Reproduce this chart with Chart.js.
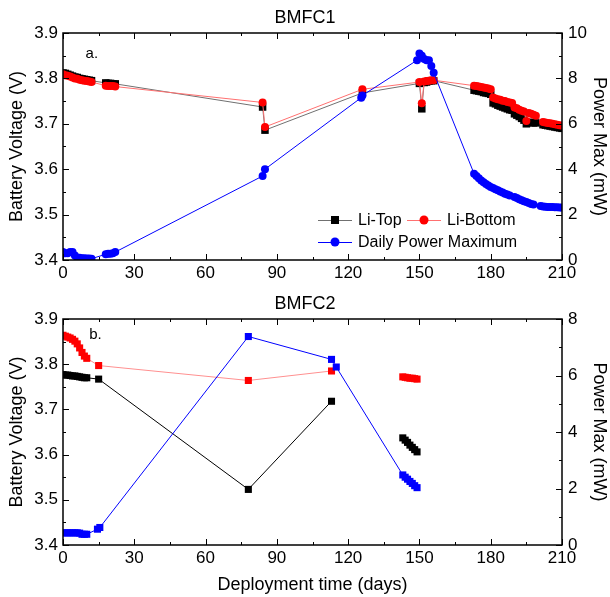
<!DOCTYPE html>
<html><head><meta charset="utf-8">
<script src="https://cdn.jsdelivr.net/npm/chart.js@4/dist/chart.umd.min.js"></script>
<style>
html,body{margin:0;padding:0;background:#fff;}
#p1{position:absolute;left:0;top:0;width:610px;height:290px;}
#p2{position:absolute;left:0;top:290px;width:610px;height:307px;}
</style></head><body>
<div id="p1"><canvas id="c1"></canvas></div>
<div id="p2"><canvas id="c2"></canvas></div>
<script>
// ---------- BMFC1 (panel a) ----------
const title1 = 'BMFC1';
const days1V = [0,1,2,3,4,5,6,7,8,9,10,11,12, 18,19,20,21,22, 84,85, 126, 150,151,152,153,154,155,156,
  173,174,175,176,177,178,179,180, 181,182,183,184,185,186,187,188,189,
  190,191,192,193,194,195,196,197,198,199, 202,203,204,205,206,207,208,209,210];
const liTop1 = [3.812,3.811,3.809,3.807,3.805,3.803,3.802,3.800,3.799,3.798,3.797,3.796,3.795,
  3.790,3.789,3.789,3.788,3.788, 3.737,3.686, 3.768, 3.789,3.733,3.791,3.792,3.794,3.795,3.795,
  3.774,3.773,3.772,3.771,3.769,3.768,3.767,3.765, 3.746,3.744,3.741,3.739,3.737,3.735,3.733,3.731,3.730,
  3.722,3.719,3.716,3.712,3.708,3.700,3.703,3.703,3.702,3.702, 3.698,3.697,3.696,3.695,3.694,3.693,3.692,3.691,3.690];
const liBot1 = [3.809,3.807,3.806,3.804,3.802,3.800,3.799,3.797,3.796,3.795,3.794,3.793,3.792,
  3.784,3.783,3.783,3.783,3.782, 3.747,3.693, 3.776, 3.792,3.745,3.793,3.794,3.795,3.796,3.796,
  3.784,3.783,3.782,3.781,3.780,3.779,3.778,3.776, 3.758,3.756,3.754,3.753,3.751,3.750,3.748,3.747,3.746,
  3.736,3.734,3.731,3.729,3.727,3.706,3.724,3.722,3.720,3.718, 3.704,3.703,3.702,3.701,3.700,3.699,3.698,3.697,3.696];
const days1P = [0,1,2,3,4,5,6,7,8,9,10,11,12, 18,19,20,21,22, 84,85, 125.5,126, 149,150,151,152,153,154,155,156,
  173,174,175,176,177,178,179,180,181,182,183,184,185,186,187,188, 190,191,192,193,194,195,196,197,198,
  201,202,203,204,205,206,207,208,209,210];
const power1 = [0.35,0.3,0.3,0.35,0.35,0.2,0.1,0.1,0.08,0.08,0.07,0.07,0.06,
  0.25,0.27,0.28,0.3,0.35, 3.7,4.0, 7.15,7.25, 8.8,9.1,9.0,8.85,8.8,8.8,8.55,8.25,
  3.8,3.7,3.6,3.5,3.42,3.35,3.28,3.22,3.17,3.12,3.07,3.02,2.97,2.92,2.88,2.84,
  2.78,2.73,2.68,2.63,2.59,2.55,2.51,2.47,2.44,
  2.38,2.36,2.35,2.34,2.33,2.33,2.32,2.32,2.31,2.31];

// ---------- BMFC2 (panel b) ----------
const title2 = 'BMFC2';
const days2V = [0,1,2,3,4,5,6,7,8,9,10,15,78,113,130,143,144,145,146,147,148,149];
const liTop2 = [3.777,3.776,3.776,3.775,3.774,3.774,3.773,3.772,3.771,3.770,3.770,3.767,3.523,3.718,null,
  3.637,3.632,3.627,3.621,3.616,3.611,3.606];
const liBot2 = [3.864,3.862,3.860,3.858,3.855,3.851,3.845,3.836,3.826,3.818,3.813,3.797,3.764,3.785,null,
  3.772,3.771,3.770,3.769,3.769,3.768,3.767];
const days2P = [0,1,2,3,4,5,6,7,8,9,10,14.5,15.5,78,113,115,143,144,145,146,147,148,149];
const power2 = [0.43,0.43,0.43,0.43,0.43,0.43,0.43,0.42,0.38,0.38,0.38,0.56,0.62,7.38,6.57,6.3,
  2.48,2.4,2.33,2.25,2.18,2.1,2.03];

const seriesNames = ['Li-Top','Li-Bottom','Daily Power Maximum'];
const xTitle = 'Deployment time (days)';
const yTitle = 'Battery Voltage (V)';
const y1Title = 'Power Max (mW)';

const FONT = '"Liberation Sans", Arial, Helvetica, sans-serif';
Chart.defaults.font.family = FONT;
Chart.defaults.color = '#000';

const pts = (xs, ys) => xs.map((x, i) => ({x: x, y: ys[i]}));

// inward ticks + frame
const frameTicks = {
  id: 'frameTicks',
  afterDatasetsDraw(chart) {
    const {ctx, chartArea: a} = chart;
    const mk = (sc) => {
      const v = sc.ticks.map(t => t.value), out = [];
      for (let i = 0; i < v.length; i++) {
        out.push([v[i], 6]);
        if (i < v.length - 1) out.push([(v[i] + v[i + 1]) / 2, 3]);
      }
      return out;
    };
    ctx.save();
    ctx.strokeStyle = '#000';
    ctx.lineWidth = 1;
    ctx.beginPath();
    const xs = chart.scales.x;
    for (const [v, len] of mk(xs)) {
      const p = Math.round(xs.getPixelForValue(v)) + 0.5;
      ctx.moveTo(p, a.bottom); ctx.lineTo(p, a.bottom - len);
      ctx.moveTo(p, a.top); ctx.lineTo(p, a.top + len);
    }
    const yl = chart.scales.y;
    for (const [v, len] of mk(yl)) {
      const p = Math.round(yl.getPixelForValue(v)) + 0.5;
      ctx.moveTo(a.left, p); ctx.lineTo(a.left + len, p);
    }
    const yr = chart.scales.y1;
    for (const [v, len] of mk(yr)) {
      const p = Math.round(yr.getPixelForValue(v)) + 0.5;
      ctx.moveTo(a.right, p); ctx.lineTo(a.right - len, p);
    }
    ctx.stroke();
    ctx.lineWidth = 1.5;
    ctx.strokeRect(a.left, a.top, a.right - a.left, a.bottom - a.top);
    // panel letter
    const lab = chart.options.plugins.panelLabel;
    if (lab) {
      ctx.font = '15px ' + FONT;
      ctx.fillStyle = '#000';
      ctx.textBaseline = 'middle';
      ctx.fillText(lab.text, xs.getPixelForValue(lab.x), yl.getPixelForValue(lab.y));
    }
    ctx.restore();
  }
};

// legend inside plot (panel a)
const insideLegend = {
  id: 'insideLegend',
  afterDraw(chart) {
    const opt = chart.options.plugins.insideLegend;
    if (!opt || !opt.show) return;
    const {ctx, chartArea: a} = chart;
    const pos = {};
    pos[seriesNames[0]] = [a.left + 255, a.bottom - 40];
    pos[seriesNames[1]] = [a.left + 344, a.bottom - 40];
    pos[seriesNames[2]] = [a.left + 255, a.bottom - 18];
    ctx.save();
    ctx.font = '16px ' + FONT;
    ctx.textBaseline = 'middle';
    chart.data.datasets.forEach((d) => {
      const [x, y] = pos[d.label];
      ctx.strokeStyle = d.borderColor;
      ctx.lineWidth = 1;
      ctx.beginPath(); ctx.moveTo(x, y + 0.5); ctx.lineTo(x + 34, y + 0.5); ctx.stroke();
      ctx.fillStyle = d.pointBackgroundColor;
      if (d.pointStyle === 'rect') ctx.fillRect(x + 17 - 4, y - 4, 8, 8);
      else { ctx.beginPath(); ctx.arc(x + 17, y, 4.5, 0, Math.PI * 2); ctx.fill(); }
      ctx.fillStyle = '#000';
      ctx.fillText(d.label, x + 40, y + 1);
    });
    ctx.restore();
  }
};

function makeScales(xAxisHeight, showXTitle, pMax) {
  return {
    x: {
      type: 'linear', min: 0, max: 210, position: 'bottom',
      ticks: {stepSize: 30, font: {size: 17}, padding: 3, maxRotation: 0, autoSkip: false, color: '#000'},
      grid: {display: false, drawTicks: false}, border: {display: false},
      title: {display: showXTitle, text: xTitle, font: {size: 18}, color: '#000', padding: {top: 0, bottom: 1}},
      afterFit: s => { s.height = xAxisHeight; }
    },
    y: {
      type: 'linear', min: 3.4, max: 3.9, position: 'left',
      ticks: {stepSize: 0.1, font: {size: 17}, padding: 5, color: '#000', callback: v => Number(v).toFixed(1)},
      grid: {display: false, drawTicks: false}, border: {display: false},
      title: {display: true, text: yTitle, font: {size: 18}, color: '#000', padding: {top: 6, bottom: 0}},
      afterFit: s => { s.width = 63; }
    },
    y1: {
      type: 'linear', min: 0, max: pMax, position: 'right',
      ticks: {stepSize: 2, font: {size: 17}, padding: 6, color: '#000'},
      grid: {display: false, drawTicks: false}, border: {display: false},
      title: {display: true, text: y1Title, font: {size: 18}, color: '#000', padding: {top: 0, bottom: 0}},
      afterFit: s => { s.width = 48; }
    }
  };
}

new Chart(document.getElementById('c1'), {
  type: 'line',
  data: {
    datasets: [
      {label: seriesNames[2], data: pts(days1P, power1), yAxisID: 'y1', order: 0,
        borderColor: '#0000ff', borderWidth: 1, pointStyle: 'circle', pointRadius: 4,
        pointBackgroundColor: '#0000ff', pointBorderColor: '#0000ff', pointBorderWidth: 0},
      {label: seriesNames[1], data: pts(days1V, liBot1), yAxisID: 'y', order: 1,
        borderColor: '#ff7070', borderWidth: 1, pointStyle: 'circle', pointRadius: 4,
        pointBackgroundColor: '#ff0000', pointBorderColor: '#ff0000', pointBorderWidth: 0},
      {label: seriesNames[0], data: pts(days1V, liTop1), yAxisID: 'y', order: 2,
        borderColor: '#707070', borderWidth: 1, pointStyle: 'rect', pointRadius: 5.3,
        pointBackgroundColor: '#000000', pointBorderColor: '#000000', pointBorderWidth: 0}
    ]
  },
  options: {
    responsive: true, maintainAspectRatio: false, animation: false, events: [],
    layout: {padding: 0},
    plugins: {
      legend: {display: false}, tooltip: {enabled: false},
      title: {display: true, text: title1, font: {size: 18, weight: 'normal'}, color: '#000', padding: {top: 7, bottom: 4.4}},
      insideLegend: {show: true},
      panelLabel: {text: 'a.', x: 9.5, y: 3.855}
    },
    scales: makeScales(30, false, 10)
  },
  plugins: [frameTicks, insideLegend]
});

new Chart(document.getElementById('c2'), {
  type: 'line',
  data: {
    datasets: [
      {label: seriesNames[2], data: pts(days2P, power2), yAxisID: 'y1', order: 0,
        borderColor: '#0000ff', borderWidth: 1, pointStyle: 'rect', pointRadius: 5,
        pointBackgroundColor: '#0000ff', pointBorderColor: '#0000ff', pointBorderWidth: 0},
      {label: seriesNames[1], data: pts(days2V, liBot2), yAxisID: 'y', order: 1, spanGaps: false,
        borderColor: '#ff9090', borderWidth: 1, pointStyle: 'rect', pointRadius: 5,
        pointBackgroundColor: '#ff0000', pointBorderColor: '#ff0000', pointBorderWidth: 0},
      {label: seriesNames[0], data: pts(days2V, liTop2), yAxisID: 'y', order: 2, spanGaps: false,
        borderColor: '#000000', borderWidth: 1, pointStyle: 'rect', pointRadius: 5,
        pointBackgroundColor: '#000000', pointBorderColor: '#000000', pointBorderWidth: 0}
    ]
  },
  options: {
    responsive: true, maintainAspectRatio: false, animation: false, events: [],
    layout: {padding: 0},
    plugins: {
      legend: {display: false}, tooltip: {enabled: false},
      title: {display: true, text: title2, font: {size: 18, weight: 'normal'}, color: '#000', padding: {top: 3, bottom: 4.4}},
      insideLegend: {show: false},
      panelLabel: {text: 'b.', x: 11, y: 3.865}
    },
    scales: makeScales(52, true, 8)
  },
  plugins: [frameTicks, insideLegend]
});
</script>
</body></html>
